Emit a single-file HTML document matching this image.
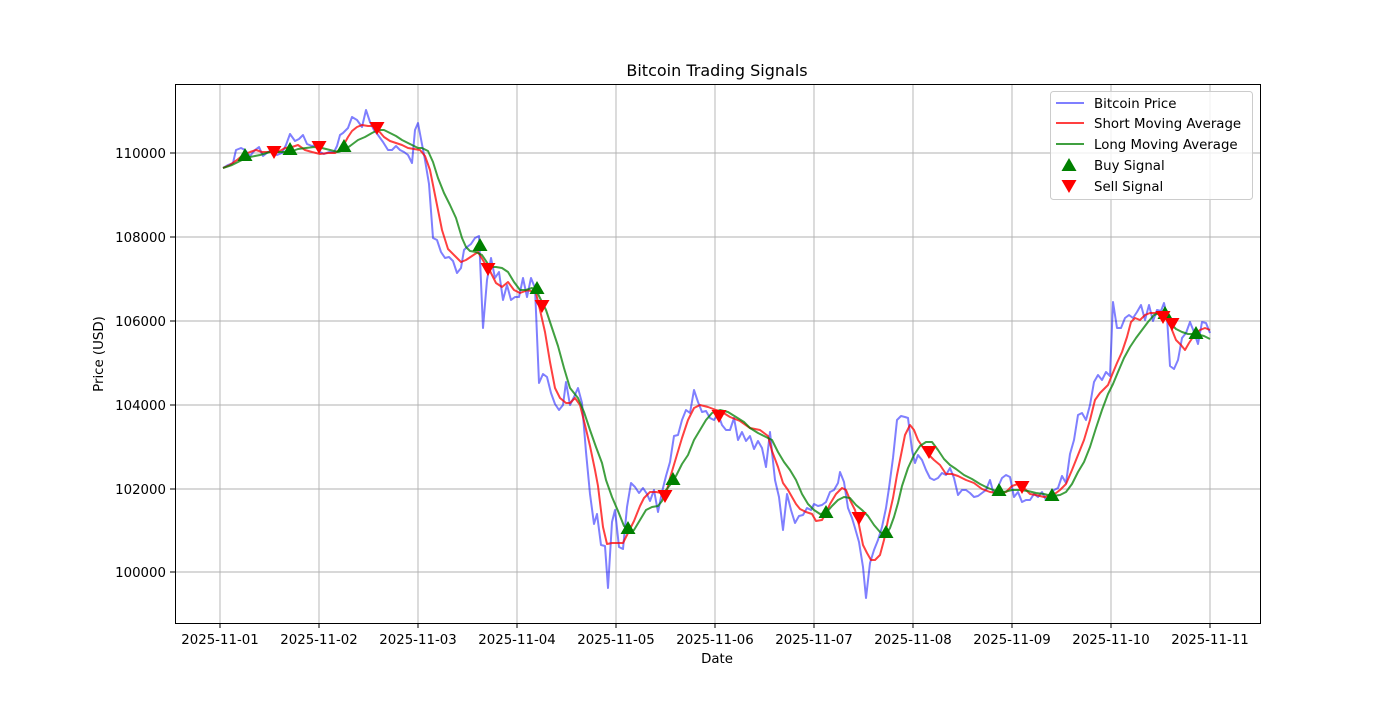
<!DOCTYPE html>
<html><head><style>body{margin:0;background:#fff}svg text{font-family:"DejaVu Sans","Liberation Sans",sans-serif;fill:#000}</style></head><body>
<svg width="1400" height="700" xmlns="http://www.w3.org/2000/svg">
<defs>
<path id="up" d="M0,-8 L7.5,5 L-7.5,5 Z" fill="#008000"/>
<path id="dn" d="M0,8 L7.5,-5 L-7.5,-5 Z" fill="#ff0000"/>
</defs>
<rect width="1400" height="700" fill="#fff"/>
<g stroke="#b0b0b0" stroke-width="0.9">
<line x1="220" y1="84" x2="220" y2="623"/><line x1="319" y1="84" x2="319" y2="623"/><line x1="418" y1="84" x2="418" y2="623"/><line x1="517" y1="84" x2="517" y2="623"/><line x1="616" y1="84" x2="616" y2="623"/><line x1="715" y1="84" x2="715" y2="623"/><line x1="814" y1="84" x2="814" y2="623"/><line x1="913" y1="84" x2="913" y2="623"/><line x1="1012" y1="84" x2="1012" y2="623"/><line x1="1111" y1="84" x2="1111" y2="623"/><line x1="1210" y1="84" x2="1210" y2="623"/>
<line x1="175" y1="153" x2="1260" y2="153"/><line x1="175" y1="237" x2="1260" y2="237"/><line x1="175" y1="321" x2="1260" y2="321"/><line x1="175" y1="405" x2="1260" y2="405"/><line x1="175" y1="489" x2="1260" y2="489"/><line x1="175" y1="572" x2="1260" y2="572"/>
</g>
<polyline fill="none" stroke="#0000ff" stroke-opacity="0.5" stroke-width="2" stroke-linejoin="round" points="223,168 228,165 233,163 236,150 241,148 245,150 250,156 255,150 259,147 263,156 268,152 272,150 277,155 282,153 286,145 290,134 295,141 299,139 303,135 307,144 312,146 316,145 320,152 324,154 329,152 334,152 337,146 340,135 343,133 348,128 352,117 357,120 362,127 366,110 370,122 374,130 378,135 383,142 388,150 392,150 396,146 400,150 404,152 408,155 412,163 415,130 418,123 421,139 425,160 429,184 433,238 437,240 441,252 445,258 449,257 453,261 457,273 461,268 464,250 467,247 471,244 475,238 479,236 483,328 487,280 491,258 495,278 499,272 503,300 507,285 511,300 515,297 519,297 523,278 527,297 531,278 535,288 539,383 543,374 547,377 551,393 555,404 559,410 563,405 566,382 570,405 574,397 578,388 582,403 586,452 590,494 594,524 597,514 601,545 605,546 608,588 612,522 615,510 619,547 623,549 627,507 631,483 635,487 639,493 643,488 647,494 650,501 654,490 658,512 662,492 666,476 670,462 674,436 678,435 682,420 686,410 690,413 694,390 698,402 702,412 706,411 710,418 714,420 718,414 722,425 726,430 730,430 734,418 738,440 742,432 746,441 750,436 754,449 758,441 762,448 766,467 770,432 772,452 775,480 779,497 783,530 787,494 791,510 795,523 799,516 803,515 807,508 811,510 814,504 818,506 822,505 826,502 830,492 834,490 838,483 840,472 844,482 848,508 852,518 855,528 859,542 863,567 866,598 870,563 874,550 878,540 882,527 886,508 889,488 893,458 897,420 901,416 905,417 908,418 912,450 915,463 918,455 922,460 926,470 930,478 934,480 938,478 942,473 946,475 950,468 954,478 958,495 962,490 966,490 970,493 974,497 978,496 982,493 986,490 990,480 994,495 998,487 1002,478 1006,475 1010,477 1014,497 1018,492 1022,502 1026,500 1030,500 1034,494 1038,497 1042,492 1046,500 1050,496 1054,490 1058,488 1062,476 1066,483 1070,454 1074,440 1078,415 1082,413 1086,420 1090,405 1094,382 1098,375 1102,380 1106,372 1110,376 1113,302 1117,328 1121,328 1125,318 1129,315 1133,318 1137,312 1141,305 1145,320 1149,305 1153,321 1157,310 1161,311 1164,303 1167,317 1170,366 1174,369 1178,360 1182,338 1186,333 1190,322 1194,332 1198,344 1202,322 1206,323 1210,333"/>
<polyline fill="none" stroke="#ff0000" stroke-opacity="0.75" stroke-width="2" stroke-linejoin="round" points="223,168 230,165 237,160 243,155 250,152 256,150 262,152 270,152 278,152 285,148 292,147 298,145 305,150 312,152 320,154 328,153 335,153 342,148 348,137 352,131 357,127 362,125 368,126 374,126 378,130 384,137 390,141 396,143 402,145 408,148 414,149 420,150 425,156 430,170 436,200 442,230 448,249 455,256 461,262 466,260 472,256 478,252 484,262 490,271 496,283 502,287 508,282 514,290 520,293 528,290 536,293 540,310 545,332 550,362 555,388 560,398 566,403 570,403 575,398 580,405 585,425 590,446 595,470 598,486 603,527 607,544 612,543 618,543 623,543 628,533 634,521 640,506 644,498 650,492 656,492 662,493 666,494 670,478 676,458 682,438 688,420 694,408 700,405 708,407 716,410 722,412 730,417 740,421 750,428 760,430 768,436 772,451 778,467 783,483 788,490 792,497 796,504 800,509 806,512 812,514 816,521 822,520 826,513 830,504 836,494 842,488 846,490 850,500 855,510 859,525 863,545 867,553 871,560 875,560 880,555 884,540 888,520 893,498 897,475 902,450 905,435 910,425 914,430 918,440 926,452 934,460 940,465 946,474 952,474 958,476 966,480 974,483 982,489 990,492 998,493 1006,492 1012,486 1018,484 1024,488 1030,494 1036,495 1044,497 1050,496 1056,493 1060,490 1066,484 1072,470 1078,455 1084,440 1090,420 1095,400 1100,393 1105,388 1108,385 1112,375 1117,363 1122,352 1127,337 1131,322 1135,318 1140,320 1145,315 1150,313 1157,313 1163,313 1168,318 1172,330 1176,340 1181,345 1185,350 1189,343 1195,334 1200,330 1205,328 1210,330"/>
<polyline fill="none" stroke="#008000" stroke-opacity="0.75" stroke-width="2" stroke-linejoin="round" points="223,168 232,165 242,160 250,157 260,155 270,152 280,152 290,152 298,149 306,148 314,147 322,148 330,150 338,152 344,150 350,146 358,140 365,137 372,133 378,130 384,130 390,133 396,136 402,140 410,144 418,148 422,148 428,151 433,162 438,178 444,193 450,205 456,218 462,238 466,247 470,251 476,252 482,255 490,267 496,267 502,268 508,272 514,282 520,290 526,290 532,288 536,290 540,298 546,310 552,328 558,346 564,368 570,388 578,398 584,412 590,430 596,447 602,463 606,480 612,497 618,511 624,526 630,531 634,530 640,520 646,510 652,507 658,506 662,501 666,490 670,485 676,476 682,464 688,455 694,440 700,430 706,420 712,413 720,410 728,412 736,417 744,422 750,428 758,433 766,437 772,440 778,452 784,462 790,470 796,480 802,494 808,504 814,510 820,514 826,513 832,506 838,500 844,497 850,498 856,505 862,510 868,516 874,525 880,532 886,535 890,528 894,517 898,503 902,486 908,468 914,455 920,446 926,442 932,442 938,450 944,459 950,465 956,469 964,475 972,479 980,484 988,488 996,491 1004,492 1012,490 1020,490 1028,491 1036,493 1044,494 1052,496 1060,495 1066,492 1072,484 1078,472 1084,462 1090,447 1096,428 1102,410 1108,394 1113,384 1118,372 1124,358 1130,347 1136,338 1142,330 1148,322 1154,315 1160,313 1166,318 1170,323 1176,329 1182,332 1188,334 1196,334 1204,336 1210,339"/>
<use href="#up" x="245" y="156"/><use href="#up" x="290" y="150"/><use href="#up" x="344" y="147"/><use href="#up" x="480" y="246"/><use href="#up" x="537" y="289"/><use href="#up" x="628" y="529"/><use href="#up" x="673" y="480"/><use href="#up" x="826" y="513"/><use href="#up" x="886" y="533"/><use href="#up" x="999" y="491"/><use href="#up" x="1052" y="496"/><use href="#up" x="1165" y="314"/><use href="#up" x="1196" y="334"/>
<use href="#dn" x="274" y="151"/><use href="#dn" x="319" y="146"/><use href="#dn" x="377" y="127"/><use href="#dn" x="488" y="268"/><use href="#dn" x="542" y="305"/><use href="#dn" x="665" y="495"/><use href="#dn" x="719" y="415"/><use href="#dn" x="859" y="517"/><use href="#dn" x="929" y="451"/><use href="#dn" x="1022" y="486"/><use href="#dn" x="1163" y="316"/><use href="#dn" x="1172" y="323"/>
<rect x="175.5" y="84.5" width="1085" height="539" fill="none" stroke="#000" stroke-width="1"/>
<g stroke="#000"><line x1="220" y1="623" x2="220" y2="628"/><line x1="319" y1="623" x2="319" y2="628"/><line x1="418" y1="623" x2="418" y2="628"/><line x1="517" y1="623" x2="517" y2="628"/><line x1="616" y1="623" x2="616" y2="628"/><line x1="715" y1="623" x2="715" y2="628"/><line x1="814" y1="623" x2="814" y2="628"/><line x1="913" y1="623" x2="913" y2="628"/><line x1="1012" y1="623" x2="1012" y2="628"/><line x1="1111" y1="623" x2="1111" y2="628"/><line x1="1210" y1="623" x2="1210" y2="628"/>
<line x1="170" y1="153" x2="175" y2="153"/><line x1="170" y1="237" x2="175" y2="237"/><line x1="170" y1="321" x2="175" y2="321"/><line x1="170" y1="405" x2="175" y2="405"/><line x1="170" y1="489" x2="175" y2="489"/><line x1="170" y1="572" x2="175" y2="572"/></g>
<g font-size="13.33" text-anchor="middle"><text x="220" y="644">2025-11-01</text><text x="319" y="644">2025-11-02</text><text x="418" y="644">2025-11-03</text><text x="517" y="644">2025-11-04</text><text x="616" y="644">2025-11-05</text><text x="715" y="644">2025-11-06</text><text x="814" y="644">2025-11-07</text><text x="913" y="644">2025-11-08</text><text x="1012" y="644">2025-11-09</text><text x="1111" y="644">2025-11-10</text><text x="1210" y="644">2025-11-11</text>
<text x="717" y="663">Date</text></g>
<g font-size="13.33" text-anchor="end"><text x="166" y="158">110000</text><text x="166" y="242">108000</text><text x="166" y="326">106000</text><text x="166" y="410">104000</text><text x="166" y="494">102000</text><text x="166" y="577">100000</text></g>
<text transform="translate(103,354) rotate(-90)" font-size="13.33" text-anchor="middle">Price (USD)</text>
<text x="717" y="76" font-size="16" text-anchor="middle">Bitcoin Trading Signals</text>
<rect x="1050.5" y="91.5" width="202" height="108" rx="3" fill="#fff" fill-opacity="0.8" stroke="#ccc"/>
<line x1="1056" y1="103" x2="1084" y2="103" stroke="#0000ff" stroke-opacity="0.5" stroke-width="2"/>
<line x1="1056" y1="123" x2="1084" y2="123" stroke="#ff0000" stroke-opacity="0.75" stroke-width="2"/>
<line x1="1056" y1="144" x2="1084" y2="144" stroke="#008000" stroke-opacity="0.75" stroke-width="2"/>
<use href="#up" x="1069" y="166"/><use href="#dn" x="1069" y="185"/>
<g font-size="13.33"><text x="1094" y="108">Bitcoin Price</text><text x="1094" y="128">Short Moving Average</text><text x="1094" y="149">Long Moving Average</text><text x="1094" y="170">Buy Signal</text><text x="1094" y="191">Sell Signal</text></g>
</svg>
</body></html>
